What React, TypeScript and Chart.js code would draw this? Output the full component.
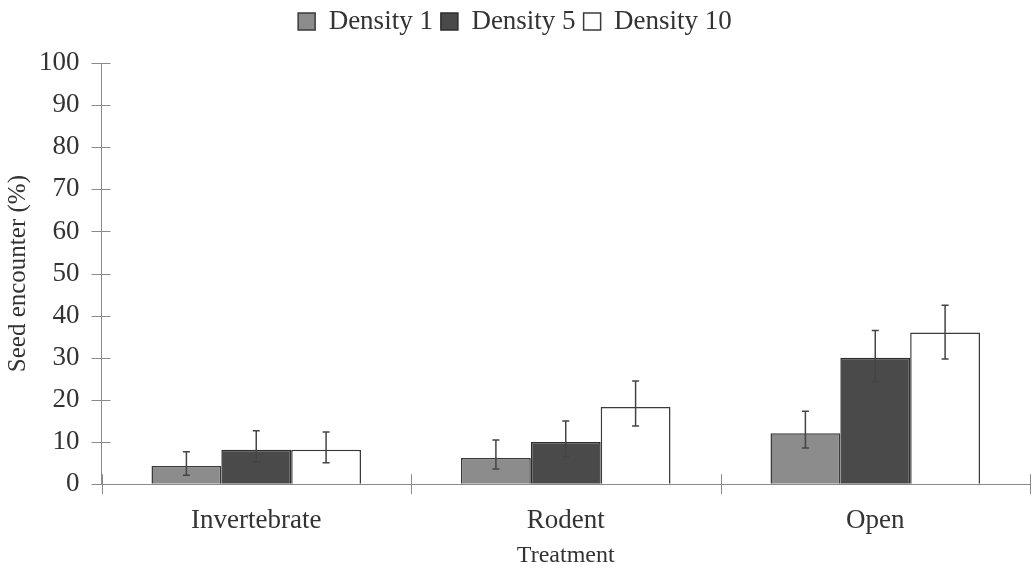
import { useEffect, useRef } from "react";
import { Chart, registerables } from "chart.js";

Chart.register(...registerables);

const categories = ["Invertebrate", "Rodent", "Open"];
const seriesNames = ["Density 1", "Density 5", "Density 10"];
const density1 = [4.3, 6.2, 12.1];
const density5 = [8.2, 10.0, 30.0];
const density10 = [8.2, 18.3, 36.0];
const density1High = [7.7, 10.5, 17.3];
const density1Low = [2.1, 3.6, 8.6];
const density5High = [12.7, 15.0, 36.5];
const density5Low = [5.2, 6.6, 24.4];
const density10High = [12.4, 24.5, 42.5];
const density10Low = [5.1, 13.8, 29.7];
const yTicks = [0, 10, 20, 30, 40, 50, 60, 70, 80, 90, 100];

const FONT = "'Liberation Serif', 'Times New Roman', serif";
const TEXT = "#333333";
const AXIS = "#8a8a8a";

const highs = [density1High, density5High, density10High];
const lows = [density1Low, density5Low, density10Low];

const errorBarPlugin = {
  id: "errorBars",
  afterDatasetsDraw(chart: any) {
    const ctx = chart.ctx;
    const yScale = chart.scales.y;
    ctx.save();
    ctx.strokeStyle = "#444444";
    ctx.lineWidth = 1.5;
    chart.data.datasets.forEach((_ds: any, i: number) => {
      const meta = chart.getDatasetMeta(i);
      meta.data.forEach((bar: any, j: number) => {
        const x = bar.x;
        const yH = yScale.getPixelForValue(highs[i][j]);
        const yL = yScale.getPixelForValue(lows[i][j]);
        ctx.beginPath();
        ctx.moveTo(x, yH);
        ctx.lineTo(x, yL);
        ctx.moveTo(x - 3.5, yH);
        ctx.lineTo(x + 3.5, yH);
        ctx.moveTo(x - 3.5, yL);
        ctx.lineTo(x + 3.5, yL);
        ctx.stroke();
      });
    });
    ctx.restore();
  },
};

const crossTicksPlugin = {
  id: "crossTicks",
  afterDraw(chart: any) {
    const ctx = chart.ctx;
    const { x: xs, y: ys } = chart.scales;
    const area = chart.chartArea;
    ctx.save();
    ctx.strokeStyle = AXIS;
    ctx.lineWidth = 1;
    ys.ticks.forEach((t: any) => {
      const py = Math.round(ys.getPixelForValue(t.value)) + 0.5;
      ctx.beginPath();
      ctx.moveTo(area.left - 10, py);
      ctx.lineTo(area.left + 9, py);
      ctx.stroke();
    });
    const n = categories.length;
    for (let k = 0; k <= n; k++) {
      const px = Math.round(xs.getPixelForValue(k - 0.5)) + 0.5;
      ctx.beginPath();
      ctx.moveTo(px, area.bottom - 10);
      ctx.lineTo(px, area.bottom + 10);
      ctx.stroke();
    }
    ctx.restore();
  },
};

const legendSpacePlugin = {
  id: "legendSpace",
  beforeInit(chart: any) {
    const legend = chart.legend;
    if (!legend) return;
    const origFit = legend.fit;
    legend.fit = function () {
      origFit.call(this);
      this.height += 18;
    };
  },
};

export default function App() {
  const ref = useRef<HTMLCanvasElement | null>(null);

  useEffect(() => {
    document.body.style.margin = "0";
    if (!ref.current) return;
    const chart = new Chart(ref.current, {
      type: "bar",
      data: {
        labels: categories,
        datasets: [
          {
            label: seriesNames[0],
            data: density1,
            backgroundColor: "#8c8c8c",
            borderColor: "#3a3a3a",
            borderWidth: 1.5,
          },
          {
            label: seriesNames[1],
            data: density5,
            backgroundColor: "#4a4a4a",
            borderColor: "#2e2e2e",
            borderWidth: 1.5,
          },
          {
            label: seriesNames[2],
            data: density10,
            backgroundColor: "#ffffff",
            borderColor: "#3a3a3a",
            borderWidth: 1.5,
          },
        ],
      },
      options: {
        animation: false,
        responsive: false,
        layout: { padding: { top: 0, right: 3, left: 0, bottom: 1 } },
        datasets: {
          bar: { barPercentage: 1.0, categoryPercentage: 0.677 },
        },
        plugins: {
          tooltip: { enabled: false },
          legend: {
            position: "top",
            labels: {
              font: { family: FONT, size: 27 },
              color: TEXT,
              boxWidth: 17,
              boxHeight: 17,
              padding: 8,
            },
          },
        },
        scales: {
          x: {
            grid: {
              display: true,
              drawOnChartArea: false,
              drawTicks: true,
              tickLength: 17,
              color: "rgba(0,0,0,0)",
              offset: true,
            },
            border: { display: true, color: AXIS, width: 1 },
            ticks: {
              font: { family: FONT, size: 27, lineHeight: 1.0 },
              color: TEXT,
              padding: 6,
            },
            title: {
              display: true,
              text: "Treatment",
              font: { family: FONT, size: 24 },
              color: TEXT,
              padding: { top: 1, bottom: 0 },
            },
          },
          y: {
            min: 0,
            max: 100,
            afterBuildTicks: (axis: any) => {
              axis.ticks = yTicks.map((v) => ({ value: v }));
            },
            grid: {
              display: true,
              drawOnChartArea: false,
              drawTicks: true,
              tickLength: 16,
              color: "rgba(0,0,0,0)",
            },
            border: { display: true, color: AXIS, width: 1 },
            ticks: {
              font: { family: FONT, size: 27 },
              color: TEXT,
              padding: 6,
            },
            title: {
              display: true,
              text: "Seed encounter (%)",
              font: { family: FONT, size: 25 },
              color: TEXT,
              padding: { top: 3, bottom: 0 },
            },
          },
        },
      },
      plugins: [errorBarPlugin, crossTicksPlugin, legendSpacePlugin],
    });
    return () => chart.destroy();
  }, []);

  return (
    <div style={{ width: 1033, height: 571, background: "#ffffff" }}>
      <canvas ref={ref} width={1033} height={571} style={{ display: "block" }} />
    </div>
  );
}
